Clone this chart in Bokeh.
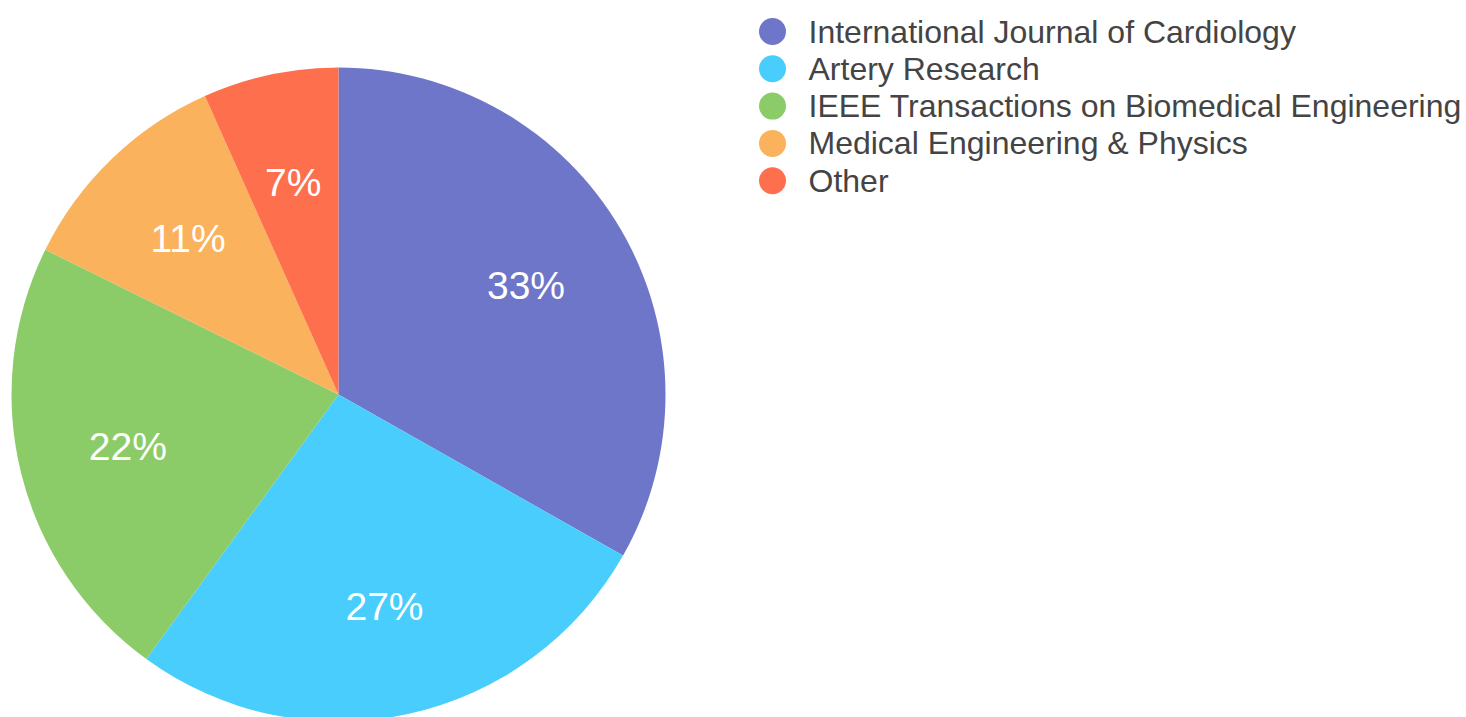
import math
from bokeh.plotting import figure
from bokeh.models import Range1d, ColumnDataSource
from bokeh.core.properties import value
from bokeh.embed import file_html
from bokeh.resources import INLINE

categories = [
    "International Journal of Cardiology",
    "Artery Research",
    "IEEE Transactions on Biomedical Engineering",
    "Medical Engineering & Physics",
    "Other",
]
shares = [33.2, 26.8, 22.3, 11.0, 6.7]
labels = ["33%", "27%", "22%", "11%", "7%"]
colors = ["#6e76c9", "#48cdfc", "#8ccc68", "#fbb25c", "#fe6f4e"]

W, H = 1466, 717
cx, cy = 338, H - 394
R = 327
LR = 217

total = sum(shares)
starts, ends, lx, ly = [], [], [], []
acc = 0.0
for s in shares:
    a0 = math.pi / 2 - 2 * math.pi * acc / total
    acc += s
    a1 = math.pi / 2 - 2 * math.pi * acc / total
    starts.append(a0)
    ends.append(a1)
    mid = (a0 + a1) / 2
    lx.append(cx + LR * math.cos(mid))
    ly.append(cy + LR * math.sin(mid))

p = figure(width=W, height=H, output_backend="svg", toolbar_location=None,
           x_range=Range1d(0, W), y_range=Range1d(0, H), min_border=0)
p.axis.visible = False
p.grid.visible = False
p.outline_line_color = None
p.background_fill_color = "white"

src = ColumnDataSource(dict(start=starts, end=ends, color=colors, lx=lx, ly=ly, label=labels))
p.wedge(x=cx, y=cy, radius=R, start_angle="start", end_angle="end", direction="clock",
        fill_color="color", line_color=None, source=src)
p.text(x="lx", y="ly", text="label", source=src, text_color="white",
       text_font=value("Liberation Sans"), text_font_size="39px",
       text_align="center", text_baseline="middle")

row0 = H - 31
step = 37.3
leg = ColumnDataSource(dict(
    x=[772] * len(categories),
    tx=[808] * len(categories),
    y=[row0 - i * step for i in range(len(categories))],
    name=categories, color=colors))
p.scatter(x="x", y="y", size=27, marker="circle", fill_color="color", line_color=None, source=leg)
p.text(x="tx", y="y", text="name", source=leg, text_color="#444444",
       text_font=value("Liberation Sans"), text_font_size="32px",
       text_align="left", text_baseline="middle")

open("out.html", "w").write(file_html(p, INLINE))
